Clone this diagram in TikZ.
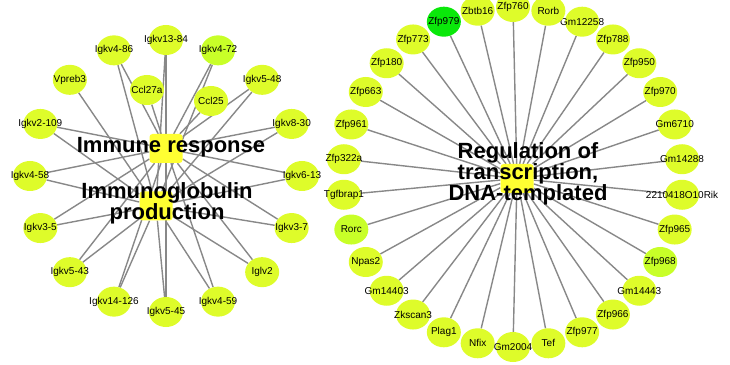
\documentclass[tikz,border=0pt]{standalone}
\usepackage{fontspec}
\setmainfont{Liberation Sans}
\usetikzlibrary{shapes.geometric,backgrounds}

\definecolor{genefill}{RGB}{222,252,42}
\definecolor{genegreen}{RGB}{200,255,40}
\definecolor{genebright}{RGB}{10,232,10}
\definecolor{hubyellow}{RGB}{255,255,50}
\definecolor{edgegray}{RGB}{136,136,136}

\begin{document}
\begin{tikzpicture}[x=1pt,y=1pt,
                    every edge/.style={draw=edgegray,line width=1.4pt},
                    gene/.style={ellipse,fill=genefill,minimum width=34pt,
                                 minimum height=30pt,inner sep=0pt,
                                 label={[font=\fontsize{10}{12}\selectfont]center:#1}}]
  \tikzstyle{hub}=[rectangle,rounded corners=3pt,fill=hubyellow,
                   minimum width=33pt,minimum height=29pt]
  \tikzstyle{hublabel}=[align=center,font=\fontsize{22}{21}\selectfont\bfseries]

  \useasboundingbox (0,0) rectangle (730,364);

  % left cluster
  \node[hub] (immune) at (166,215.5) {};
  \node[hub] (igprod) at (156,158)   {};

  \begin{scope}[shift={(166,188)}]
    \node[gene=Igkv13-84]  (k1384)  at (90:136)    {};
    \node[gene=Igkv4-86]   (k486)   at (112.5:136) {};
    \node[gene=Vpreb3]     (vpreb)  at (135:136)   {};
    \node[gene=Igkv2-109]  (k2109)  at (157.5:136) {};
    \node[gene=Igkv4-58]   (k458)   at (180:136)   {};
    \node[gene=Igkv3-5]    (k35)    at (202.5:136) {};
    \node[gene=Igkv5-43]   (k543)   at (225:136)   {};
    \node[gene=Igkv14-126] (k14126) at (247.5:136) {};
    \node[gene=Igkv5-45]   (k545)   at (270:136)   {};
    \node[gene=Igkv4-59]   (k459)   at (292.5:136) {};
    \node[gene=Iglv2]      (lv2)    at (315:136)   {};
    \node[gene=Igkv3-7]    (k37)    at (337.5:136) {};
    \node[gene=Igkv6-13]   (k613)   at (0:136)     {};
    \node[gene=Igkv8-30]   (k830)   at (22.5:136)  {};
    \node[gene=Igkv5-48]   (k548)   at (45:136)    {};
    \node[gene=Igkv4-72,fill=genegreen] (k472) at (67.5:136) {};
  \end{scope}
  \node[gene=Ccl27a] (ccl27a) at (147,274) {};
  \node[gene=Ccl25]  (ccl25)  at (211,263) {};

  \node[hublabel] (immtext) at ([xshift=5pt,yshift=1.5pt]immune) {Immune response};
  \node[hublabel] (igtext)  at ([xshift=11pt,yshift=3pt]igprod)
                            {Immunoglobulin\\production};

  % right cluster
  \node[hub] (regtx) at (517,185.5) {};

  \begin{scope}[shift={(513,187)}]
    \node[gene=Zfp760]  (zfp760)  at (90:170)  {};
    \node[gene=Zbtb16]  (zbtb16)  at (102:170) {};
    \node[gene=Zfp979,fill=genebright] (zfp979) at (114:170) {};
    \node[gene=Zfp773]  (zfp773)  at (126:170) {};
    \node[gene=Zfp180]  (zfp180)  at (138:170) {};
    \node[gene=Zfp663]  (zfp663)  at (150:170) {};
    \node[gene=Zfp961]  (zfp961)  at (162:170) {};
    \node[gene=Zfp322a] (zfp322a) at (174:170) {};
    \node[gene=Tgfbrap1] (tgfbrap) at (186:170) {};
    \node[gene=Rorc,fill=genegreen] (rorc) at (198:170) {};
    \node[gene=Npas2]   (npas2)   at (210:170) {};
    \node[gene=Gm14403] (gm14403) at (222:170) {};
    \node[gene=Zkscan3] (zkscan3) at (234:170) {};
    \node[gene=Plag1]   (plag1)   at (246:170) {};
    \node[gene=Nfix]    (nfix)    at (258:170) {};
    \node[gene=Gm2004]  (gm2004)  at (270:170) {};
    \node[gene=Tef]     (tef)     at (282:170) {};
    \node[gene=Zfp977]  (zfp977)  at (294:170) {};
    \node[gene=Zfp966]  (zfp966)  at (306:170) {};
    \node[gene=Gm14443] (gm14443) at (318:170) {};
    \node[gene=Zfp968,fill=genegreen] (zfp968) at (330:170) {};
    \node[gene=Zfp965]  (zfp965)  at (342:170) {};
    \node[gene=2210418O10Rik] (rik) at (354:170) {};
    \node[gene=Gm14288] (gm14288) at (6:170)   {};
    \node[gene=Gm6710]  (gm6710)  at (18:170)  {};
    \node[gene=Zfp970]  (zfp970)  at (30:170)  {};
    \node[gene=Zfp950]  (zfp950)  at (42:170)  {};
    \node[gene=Zfp788]  (zfp788)  at (54:170)  {};
    \node[gene=Gm12258] (gm12258) at (66:170)  {};
    \node[gene=Rorb]    (rorb)    at (78:170)  {};
  \end{scope}

  \node[hublabel] (regtext) at ([xshift=11pt,yshift=4.5pt]regtx)
                            {Regulation of\\transcription,\\DNA-templated};

  \begin{scope}[on background layer]
  \path (immune) edge (k1384) edge (k486) edge (k2109) edge (k458)
                 edge (k35) edge (k543) edge (k14126) edge (k545)
                 edge (k459) edge (lv2) edge (k37) edge (k613)
                 edge (k830) edge (k548) edge (k472)
                 edge (ccl27a) edge (ccl25)
        (igprod) edge (k1384) edge (k486) edge (vpreb) edge (k2109)
                 edge (k458) edge (k35) edge (k543) edge (k14126)
                 edge (k545) edge (k459) edge (lv2) edge (k37)
                 edge (k613) edge (k830) edge (k548) edge (k472);

  \path (regtx) edge (zfp760) edge (zbtb16) edge (zfp979) edge (zfp773)
                edge (zfp180) edge (zfp663) edge (zfp961) edge (zfp322a)
                edge (tgfbrap) edge (rorc) edge (npas2) edge (gm14403)
                edge (zkscan3) edge (plag1) edge (nfix) edge (gm2004)
                edge (tef) edge (zfp977) edge (zfp966) edge (gm14443)
                edge (zfp968) edge (zfp965) edge (rik) edge (gm14288)
                edge (gm6710) edge (zfp970) edge (zfp950) edge (zfp788)
                edge (gm12258) edge (rorb);
  \end{scope}
\end{tikzpicture}
\end{document}
